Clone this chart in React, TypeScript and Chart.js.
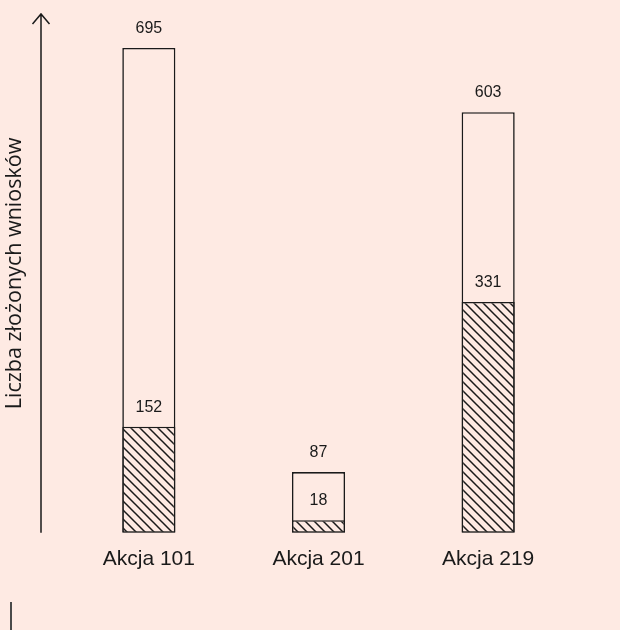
import { useEffect, useRef } from "react";
import { Chart, registerables } from "chart.js";

Chart.register(...registerables);

const categories = ["Akcja 101", "Akcja 201", "Akcja 219"];
const totalValues = [695, 87, 603];
const hatchedValues = [152, 18, 331];
const yAxisTitle = "Liczba złożonych wniosków";

const BG = "#feeae3";
const INK = "#1a1a1a";
const FONT = "'Liberation Sans', Arial, sans-serif";
const TITLE_FONT = "'Open Sans', 'Noto Sans', sans-serif";

function makeHatch(): CanvasPattern | string {
  const s = 9;
  const c = document.createElement("canvas");
  c.width = s;
  c.height = s;
  const g = c.getContext("2d");
  if (!g) return BG;
  g.fillStyle = BG;
  g.fillRect(0, 0, s, s);
  g.strokeStyle = INK;
  g.lineWidth = 1.5;
  g.beginPath();
  for (let k = -1; k <= 1; k++) {
    g.moveTo(k * s - 1, -1);
    g.lineTo(k * s + s + 1, s + 1);
  }
  g.stroke();
  const p = g.createPattern(c, "repeat");
  return p || BG;
}

const overlayPlugin = {
  id: "overlay",
  afterDatasetsDraw(chart: any) {
    const ctx = chart.ctx as CanvasRenderingContext2D;
    const area = chart.chartArea;
    const axisX = area.left - 23;
    const tipY = 14;
    ctx.save();
    ctx.strokeStyle = INK;
    ctx.lineWidth = 1.5;
    ctx.beginPath();
    ctx.moveTo(axisX, area.bottom);
    ctx.lineTo(axisX, tipY);
    ctx.moveTo(axisX - 8.5, tipY + 10);
    ctx.lineTo(axisX, tipY);
    ctx.lineTo(axisX + 8.5, tipY + 10);
    ctx.stroke();

    ctx.fillStyle = INK;
    ctx.font = `16px ${FONT}`;
    ctx.textAlign = "center";
    ctx.textBaseline = "middle";
    chart.data.datasets.forEach((ds: any, di: number) => {
      const meta = chart.getDatasetMeta(di);
      meta.data.forEach((el: any, i: number) => {
        ctx.fillText(String(ds.data[i]), el.x, el.y - 19.5);
      });
    });

    ctx.translate(15, (tipY + area.bottom) / 2);
    ctx.rotate(-Math.PI / 2);
    ctx.font = `21.5px ${TITLE_FONT}`;
    ctx.fillText(yAxisTitle, 0, 0);
    ctx.restore();
  },
};

export default function App() {
  const ref = useRef<HTMLCanvasElement | null>(null);

  useEffect(() => {
    if (!ref.current) return;
    const hatch = makeHatch();
    const common = {
      borderColor: INK,
      borderWidth: 1.6,
      borderSkipped: false,
      grouped: false,
      barPercentage: 0.313,
      categoryPercentage: 1,
    };
    const chart = new Chart(ref.current, {
      type: "bar",
      data: {
        labels: categories,
        datasets: [
          { label: "hatched", data: hatchedValues, backgroundColor: hatch as any, ...common },
          { label: "total", data: totalValues, backgroundColor: BG, ...common },
        ],
      },
      options: {
        responsive: false,
        animation: false,
        layout: { padding: { left: 64, right: 47, top: 48, bottom: 44 } },
        plugins: { legend: { display: false }, tooltip: { enabled: false } },
        scales: {
          x: {
            grid: { display: false, drawTicks: false },
            border: { display: false },
            ticks: { color: INK, font: { family: FONT, size: 21 }, padding: 14 },
          },
          y: { display: false, min: 0, max: Math.max(...totalValues) },
        },
      } as any,
      plugins: [overlayPlugin],
    });
    return () => chart.destroy();
  }, []);

  return (
    <div style={{ position: "fixed", left: 0, top: 0, width: 620, height: 630, background: BG }}>
      <canvas ref={ref} width={620} height={630} style={{ display: "block" }} />
      <div style={{ position: "absolute", left: 10, top: 602, width: 2, height: 28, background: "#4a4a4a" }} />
    </div>
  );
}
